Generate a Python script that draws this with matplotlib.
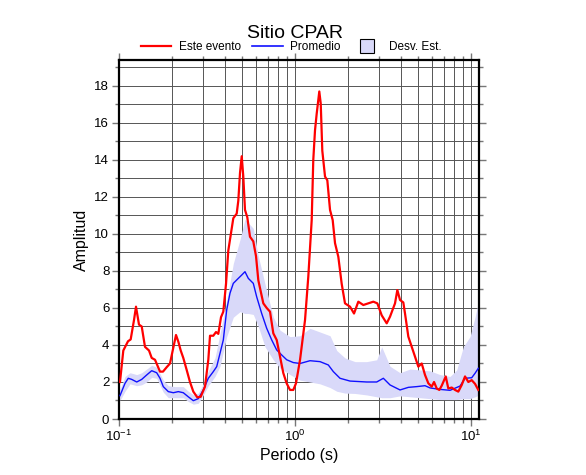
import numpy as np
import matplotlib
matplotlib.use('Agg')
import matplotlib.pyplot as plt
from matplotlib.lines import Line2D
from matplotlib.ticker import MultipleLocator, LogLocator

plt.rcParams['font.family'] = ['Liberation Sans', 'DejaVu Sans']

# Este evento (periodo, amplitud)
evento_T = [0.1013, 0.1058, 0.1125, 0.1165, 0.1217, 0.1249, 0.1299, 0.1346, 0.1405, 0.1481,
            0.1534, 0.1602, 0.1710, 0.1778, 0.1866, 0.1949, 0.2019, 0.2108, 0.2173, 0.2242,
            0.2319, 0.2424, 0.2531, 0.2644, 0.2786, 0.2912, 0.3080, 0.3217, 0.3289, 0.3434,
            0.3558, 0.3666, 0.3798, 0.3914, 0.4055, 0.4178, 0.4461, 0.4664, 0.4763, 0.4870,
            0.4980, 0.5084, 0.5198, 0.5357, 0.5549, 0.5794, 0.6004, 0.6187, 0.6606, 0.6905,
            0.7211, 0.7528, 0.7870, 0.8220, 0.8581, 0.8971, 0.9367, 0.9779, 1.013, 1.068,
            1.140, 1.190, 1.244, 1.270, 1.299, 1.328, 1.374, 1.400, 1.429, 1.481,
            1.526, 1.581, 1.637, 1.688, 1.762, 1.842, 1.923, 2.054, 2.164, 2.289,
            2.444, 2.609, 2.786, 2.936, 3.109, 3.319, 3.466, 3.700, 3.814, 3.951,
            4.124, 4.217, 4.404, 4.604, 4.806, 5.019, 5.247, 5.478, 5.720, 5.980,
            6.163, 6.384, 6.605, 6.815, 7.182, 7.430, 7.768, 8.111, 8.469, 8.855,
            9.246, 9.654, 10.09, 10.54, 11.00]
evento_A = [2.0, 3.7, 4.2, 4.3, 5.35, 6.07, 5.1, 5.0, 3.9, 3.7,
            3.3, 3.2, 2.56, 2.56, 2.8, 3.0, 3.7, 4.54, 4.18, 3.7,
            3.3, 2.65, 2.0, 1.48, 1.17, 1.2, 1.75, 3.2, 4.5, 4.5,
            4.7, 4.6, 5.5, 5.8, 7.3, 9.1, 10.85, 11.1, 11.8, 13.3,
            14.2, 13.1, 11.3, 10.9, 9.85, 9.6, 8.8, 7.5, 6.25, 6.0,
            5.8, 4.63, 4.27, 3.37, 2.48, 1.92, 1.57, 1.57, 1.93, 3.2,
            5.35, 7.7, 10.75, 14.0, 15.6, 16.5, 17.7, 17.05, 14.5, 13.1,
            12.9, 11.3, 10.75, 9.5, 8.77, 7.3, 6.25, 6.07, 5.7, 6.34,
            6.16, 6.25, 6.34, 6.25, 5.6, 5.17, 5.53, 6.25, 6.97, 6.43,
            6.3, 5.7, 4.45, 3.9, 3.37, 2.83, 3.0, 2.38, 1.93, 1.75,
            2.0, 1.65, 1.57, 1.8, 2.3, 1.65, 1.7, 1.57, 1.48, 1.84,
            2.3, 2.0, 2.1, 1.9, 1.57]

# Promedio
prom_T = [0.1013, 0.1082, 0.1129, 0.1181, 0.1261, 0.1346, 0.1437, 0.1534, 0.1637, 0.1710,
          0.1785, 0.1906, 0.2035, 0.2173, 0.2319, 0.2475, 0.2644, 0.2822, 0.3013, 0.3217,
          0.3434, 0.3590, 0.3749, 0.3914, 0.4092, 0.4272, 0.4461, 0.4763, 0.4980, 0.5198,
          0.5428, 0.5794, 0.6058, 0.6468, 0.6905, 0.7374, 0.7870, 0.8401, 0.8971, 0.9779,
          1.068, 1.217, 1.387, 1.546, 1.651, 1.802, 2.054, 2.555, 2.912, 3.176,
          3.466, 3.951, 4.404, 4.916, 5.478, 5.848, 6.667, 7.598, 8.660, 9.246,
          10.09, 10.54, 11.00]
prom_A = [1.26, 1.93, 2.2, 2.14, 2.0, 2.14, 2.38, 2.61, 2.5, 2.2,
          1.75, 1.48, 1.42, 1.48, 1.42, 1.2, 0.99, 1.1, 1.57, 2.2,
          2.56, 2.83, 3.55, 4.27, 5.9, 6.8, 7.33, 7.6, 7.78, 7.96,
          7.6, 7.33, 6.6, 5.7, 4.9, 4.27, 3.73, 3.46, 3.2, 3.05,
          3.0, 3.15, 3.1, 2.92, 2.56, 2.2, 2.05, 2.0, 2.0, 2.2,
          1.84, 1.57, 1.71, 1.75, 1.8, 1.68, 1.6, 1.55, 1.78, 2.2,
          2.23, 2.47, 2.74]

# Desv. Est. (banda)
desv_T = [0.1013, 0.1082, 0.1155, 0.1261, 0.1346, 0.1437, 0.1534, 0.1637, 0.1785, 0.1906,
          0.2080, 0.2319, 0.2475, 0.2644, 0.2822, 0.3013, 0.3217, 0.3511, 0.3749, 0.4092,
          0.4461, 0.4870, 0.5198, 0.5428, 0.5794, 0.6187, 0.6753, 0.7528, 0.8220, 0.9367,
          1.068, 1.217, 1.387, 1.581, 1.726, 1.923, 2.193, 2.555, 2.912, 3.109,
          3.466, 3.951, 4.502, 5.131, 5.848, 6.667, 7.598, 8.294, 9.043, 9.869,
          10.54, 11.1]
desv_inf = [1.0, 1.5, 1.9, 1.8, 1.85, 2.0, 2.25, 2.2, 1.45, 1.15,
            1.15, 1.15, 0.95, 0.8, 0.85, 1.3, 1.8, 2.3, 2.85, 4.45,
            5.5, 5.8, 5.7, 5.7, 5.65, 5.0, 3.9, 3.2, 2.75, 2.4,
            2.1, 2.0, 1.9, 1.7, 1.5, 1.4, 1.38, 1.3, 1.2, 1.15,
            1.15, 1.25, 1.2, 1.15, 1.1, 1.05, 1.05, 1.05, 1.1, 1.1,
            1.2, 1.3]
desv_sup = [1.6, 2.3, 2.5, 2.4, 2.5, 2.7, 2.9, 2.8, 2.1, 1.8,
            1.75, 1.75, 1.5, 1.3, 1.4, 1.9, 2.6, 3.3, 4.6, 6.4,
            8.4, 9.7, 10.8, 10.6, 10.3, 8.8, 7.3, 5.5, 4.8, 4.45,
            4.5, 4.9, 4.7, 4.5, 3.7, 3.3, 3.1, 3.1, 3.2, 3.9,
            2.85, 2.5, 2.7, 2.65, 2.6, 2.4, 2.3, 2.65, 3.9, 4.45,
            5.5, 6.5]

fig = plt.figure(figsize=(5.86, 4.75), dpi=100)
ax = fig.add_axes([119/586, 56/475, 360/586, 359/475])

ax.fill_between(desv_T, desv_inf, desv_sup, color='#d9d9f9', lw=0, zorder=1)
ax.plot(prom_T, prom_A, color='#1010ff', lw=1.0, zorder=3)
ax.plot(evento_T, evento_A, color='#ff0000', lw=1.6, zorder=4)

ax.set_xscale('log')
ax.set_xlim(0.1, 11.1)
ax.set_ylim(0, 19.4)
ax.xaxis.set_minor_locator(LogLocator(base=10, subs=np.arange(2, 10)))
ax.yaxis.set_major_locator(MultipleLocator(2))
ax.yaxis.set_minor_locator(MultipleLocator(1))
ax.grid(True, which='both', color='#555555', lw=0.7, zorder=0)
ax.set_axisbelow(True)

for s in ax.spines.values():
    s.set_linewidth(1.6)
    s.set_color('black')
ax.tick_params(which='both', direction='out', top=True, right=True, color='#777777',
               labelsize=9.5, pad=2)
ax.tick_params(which='major', length=5, width=1)
ax.tick_params(which='minor', length=3, width=1)

ax.set_xlabel('Periodo (s)', fontsize=11.5, labelpad=3)
ax.set_ylabel('Amplitud', fontsize=11.5, labelpad=4)

fig.text(0.503, 0.930, 'Sitio CPAR', ha='center', va='center', fontsize=14)

handles = [Line2D([], [], color='#ff0000', lw=1.6),
           Line2D([], [], color='#1010ff', lw=1.2),
           Line2D([], [], ls='none', marker='s', markersize=10,
                  markerfacecolor='#d9d9f9', markeredgecolor='black', markeredgewidth=0.8)]
fig.legend(handles, ['Este evento', 'Promedio', 'Desv. Est.'], loc='center',
           bbox_to_anchor=(0.497, 0.901), ncol=3, frameon=False, fontsize=8.5,
           handlelength=2.6, handletextpad=0.6, columnspacing=0.95)

fig.savefig('out.png', dpi=100)
